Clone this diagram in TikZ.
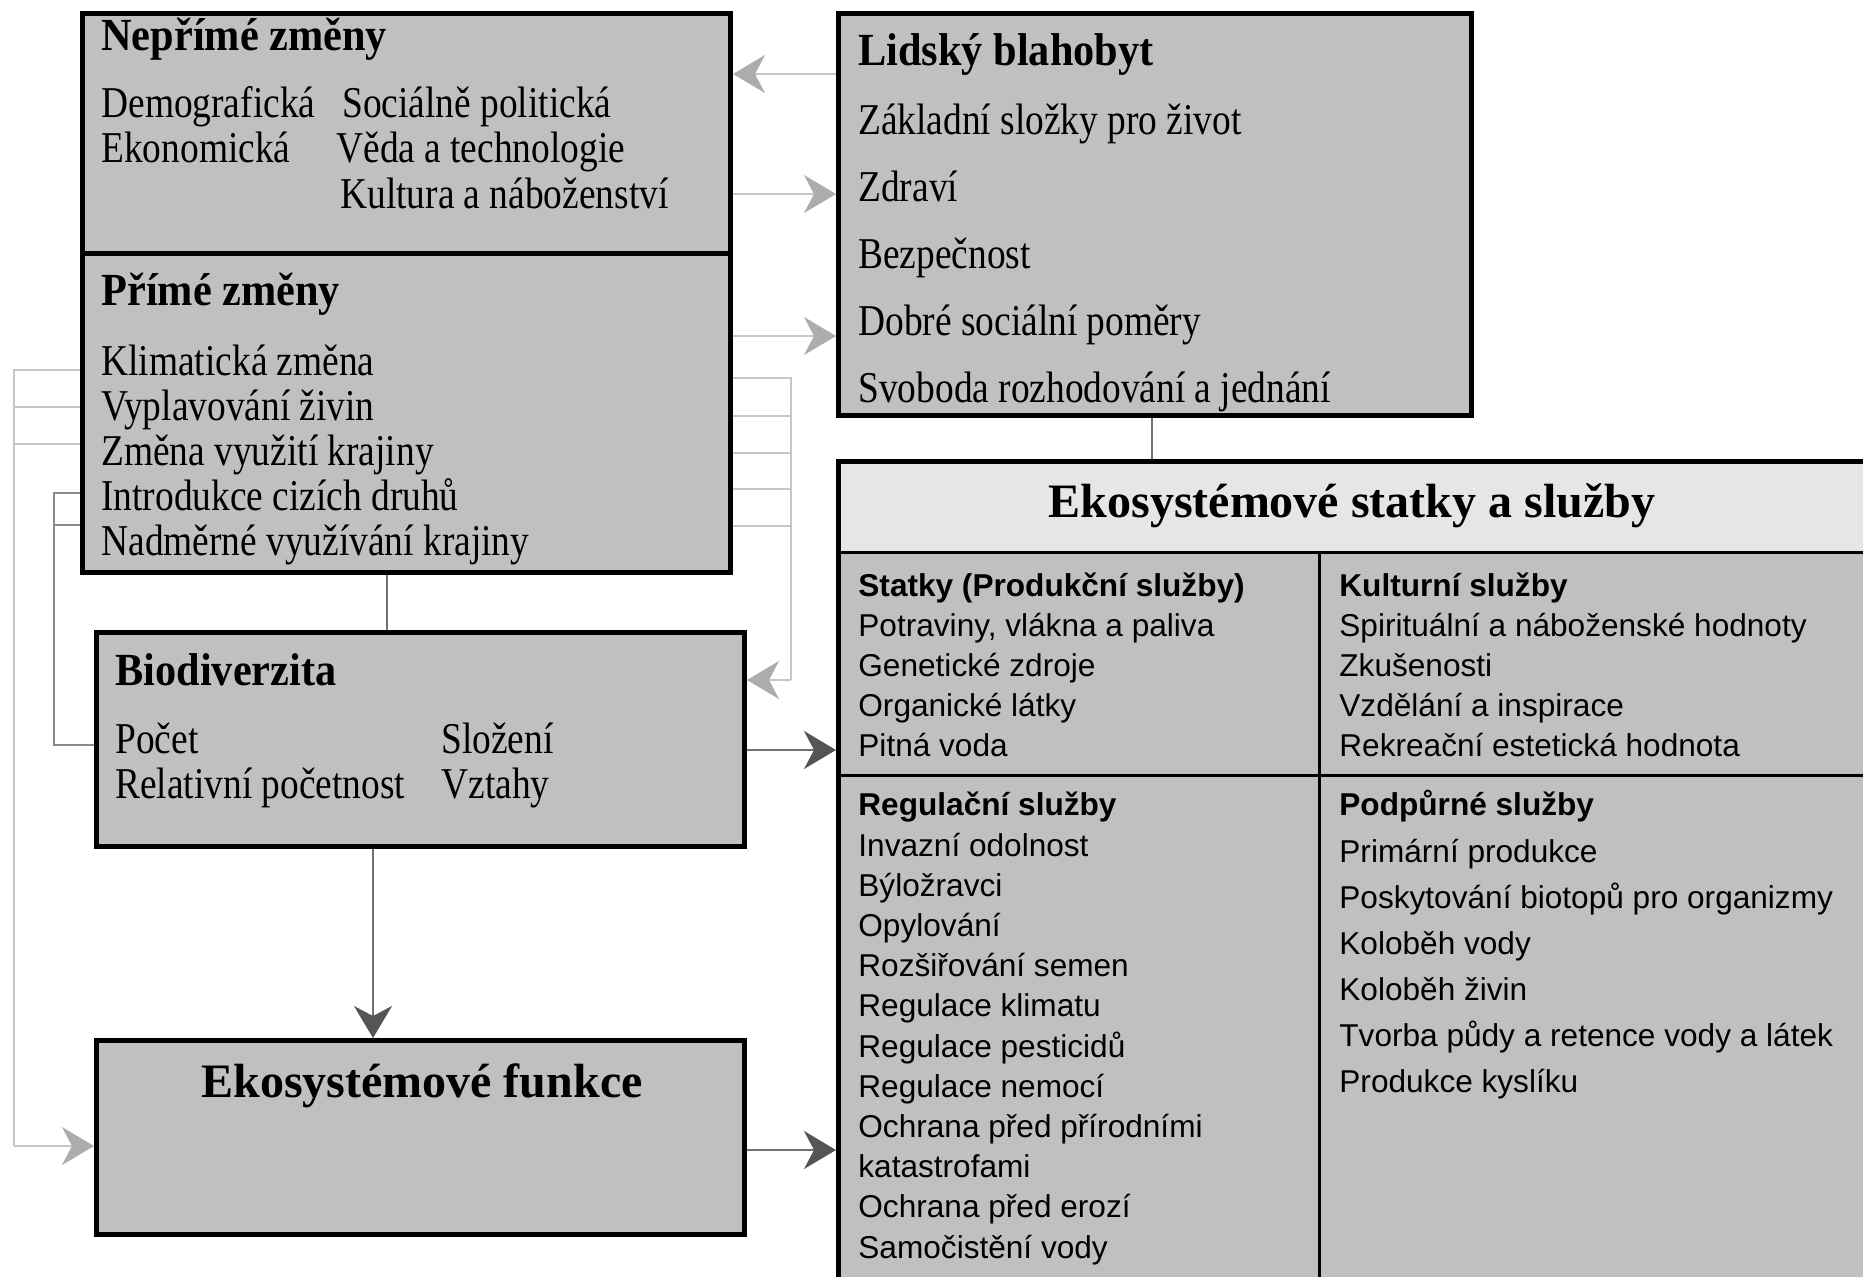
\documentclass[tikz,border=0pt]{standalone}
\usepackage{fontspec}
\setmainfont{Liberation Serif}
\newfontfamily\serbody[FakeStretch=0.85]{Liberation Serif}
\newfontfamily\serhead[FakeStretch=0.92]{Liberation Serif}
\newfontfamily\serbig{Liberation Serif}
\newfontfamily\arialf{Liberation Sans}
\usetikzlibrary{arrows.meta}
\definecolor{boxgrey}{HTML}{C0C0C0}
\definecolor{hdrgrey}{HTML}{E6E6E6}
\definecolor{lightline}{HTML}{C6C6C6}
\definecolor{lighthead}{HTML}{ADADAD}
\definecolor{midline}{HTML}{8A8A8A}
\definecolor{darkline}{HTML}{707070}
\definecolor{darkhead}{HTML}{555555}
\begin{document}
\begin{tikzpicture}[x=0.5pt,y=-0.5pt,
  panel/.style={draw=black, line width=2.5pt, fill=boxgrey, rectangle, inner sep=0pt},
  body/.style={anchor=base west, inner sep=0pt, font=\serbody\fontsize{22}{22}\selectfont},
  head/.style={anchor=base west, inner sep=0pt, font=\serhead\bfseries\fontsize{23}{23}\selectfont},
  bighead/.style={anchor=base, inner sep=0pt, font=\serbig\bfseries\fontsize{24}{24}\selectfont},
  sbody/.style={anchor=base west, inner sep=0pt, font=\arialf\fontsize{15.8}{18}\selectfont},
  shead/.style={anchor=base west, inner sep=0pt, font=\arialf\bfseries\fontsize{15.8}{18}\selectfont},
  lightconn/.style={draw=lightline, line width=1pt},
  midconn/.style={draw=midline, line width=1pt},
  darkconn/.style={draw=darkline, line width=1pt},
  lightarrow/.style={lightconn, -{Stealth[length=16pt,width=19pt,inset=5pt,color=lighthead]}},
  darkarrow/.style={darkconn, -{Stealth[length=16pt,width=19pt,inset=5pt,color=darkhead]}}
]
\useasboundingbox (0,0) rectangle (1863,1276);
\fill[white] (0,0) rectangle (1863,1276);

% boxes
\node[panel, minimum width=324pt, minimum height=119.75pt] (nep) at (406.5,133.25) {};
\node[panel, minimum width=324pt, minimum height=159.75pt] (prim) at (406.5,412.75) {};
\node[panel, minimum width=316.5pt, minimum height=201pt] (lid) at (1155,214.5) {};
\node[panel, minimum width=324pt, minimum height=107pt] (bio) at (420.5,739.5) {};
\node[panel, minimum width=324pt, minimum height=97pt] (fun) at (420.5,1137.5) {};
\node[panel, minimum width=530.75pt, minimum height=434.25pt] (eco) at (1369.25,895.75) {};
\fill[hdrgrey] (841,464) rectangle (1900,552);
\draw[line width=1.5pt] (838.5,552) -- (1900,552);
\draw[line width=1.5pt] (1319,552) -- (1319,1330);
\draw[line width=1.5pt] (838.5,775) -- (1900,775);

% connector coordinates
\coordinate (yA) at (0,74);
\coordinate (yB) at (0,194);
\coordinate (yC) at (0,336);
\coordinate (r1) at (791,378);
\coordinate (r2) at (791,416);
\coordinate (r3) at (791,453);
\coordinate (r4) at (791,489);
\coordinate (r5) at (791,526);
\coordinate (rb) at (791,680);
\coordinate (l1) at (14,370);
\coordinate (l2) at (14,407);
\coordinate (l3) at (14,444);
\coordinate (lb) at (14,1146);
\coordinate (m1) at (54,493);
\coordinate (m2) at (54,525);
\coordinate (mb) at (54,745);
\coordinate (v1) at (387,0);
\coordinate (v2) at (373,0);
\coordinate (v3) at (1152,0);
\coordinate (yD) at (0,750);
\coordinate (yE) at (0,1150);

% connectors
\draw[lightarrow] (lid.west |- yA) -- (nep.east |- yA);
\draw[lightarrow] (nep.east |- yB) -- (lid.west |- yB);
\draw[lightarrow] (prim.east |- yC) -- (lid.west |- yC);
\draw[lightconn] (prim.east |- r1) -- (r1) -- (rb);
\foreach \k in {2,3,4,5} \draw[lightconn] (prim.east |- r\k) -- (r\k);
\draw[lightarrow] (rb) -- (bio.east |- rb);
\draw[lightconn] (prim.west |- l1) -- (l1) -- (lb);
\draw[lightconn] (prim.west |- l2) -- (l2);
\draw[lightconn] (prim.west |- l3) -- (l3);
\draw[lightarrow] (lb) -- (fun.west |- lb);
\draw[midconn] (prim.west |- m1) -- (m1) -- (mb) -- (bio.west |- mb);
\draw[midconn] (prim.west |- m2) -- (m2);
\draw[darkconn] (prim.south -| v1) -- (bio.north -| v1);
\draw[darkarrow] (bio.south -| v2) -- (fun.north -| v2);
\draw[darkarrow] (bio.east |- yD) -- (eco.west |- yD);
\draw[darkarrow] (fun.east |- yE) -- (eco.west |- yE);
\draw[darkconn] (lid.south -| v3) -- (eco.north -| v3);

% Neprime zmeny
\node[head] (tnep) at (101,50) {Nepřímé změny};
\node[body] (tn1) at (101,117) {Demografická};
\node[body] (tn2) at (342,117) {Sociálně politická};
\node[body] (tn3) at (101,162) {Ekonomická};
\node[body] (tn4) at (336,162) {Věda a technologie};
\node[body] (tn5) at (340,208) {Kultura a náboženství};

% Prime zmeny
\node[head] (tprim) at (101,305) {Přímé změny};
\foreach \t [count=\i from 0] in {Klimatická změna, Vyplavování živin, Změna využití krajiny, Introdukce cizích druhů, Nadměrné využívání krajiny}
  \node[body] (tp\i) at (101,{375+45*\i}) {\t};

% Lidsky blahobyt
\node[head] (tlid) at (858,65) {Lidský blahobyt};
\foreach \t [count=\i from 0] in {Základní složky pro život, Zdraví, Bezpečnost, Dobré sociální poměry, Svoboda rozhodování a jednání}
  \node[body] (tl\i) at (858,{134+67.2*\i}) {\t};

% Biodiverzita
\node[head] (tbio) at (115,685) {Biodiverzita};
\node[body] (tb1) at (115,753) {Počet};
\node[body] (tb2) at (115,798) {Relativní početnost};
\node[body] (tb3) at (441,753) {Složení};
\node[body] (tb4) at (441,798) {Vztahy};

% Ekosystemove funkce
\node[bighead] (tfun) at (422,1097) {Ekosystémové funkce};

% Eco header
\node[bighead] (teco) at (1352,517) {Ekosystémové statky a služby};

% Statky
\node[shead] (tst) at (858,596) {Statky (Produkční služby)};
\foreach \t [count=\i from 0] in {{Potraviny, vlákna a paliva}, Genetické zdroje, Organické látky, Pitná voda}
  \node[sbody] (ts\i) at (858,{636+40.3*\i}) {\t};

% Kulturni
\node[shead] (tku) at (1339,596) {Kulturní služby};
\foreach \t [count=\i from 0] in {Spirituální a náboženské hodnoty, Zkušenosti, Vzdělání a inspirace, Rekreační estetická hodnota}
  \node[sbody] (tk\i) at (1339,{636+40.3*\i}) {\t};

% Regulacni
\node[shead] (treg) at (858,815) {Regulační služby};
\foreach \t [count=\i from 0] in {Invazní odolnost, Býložravci, Opylování, Rozšiřování semen, Regulace klimatu, Regulace pesticidů, Regulace nemocí, Ochrana před přírodními, katastrofami, Ochrana před erozí, Samočistění vody}
  \node[sbody] (tr\i) at (858,{856+40.2*\i}) {\t};

% Podpurne
\node[shead] (tpo) at (1339,815) {Podpůrné služby};
\foreach \t [count=\i from 0] in {Primární produkce, Poskytování biotopů pro organizmy, Koloběh vody, Koloběh živin, Tvorba půdy a retence vody a látek, Produkce kyslíku}
  \node[sbody] (tpp\i) at (1339,{862+46*\i}) {\t};
\end{tikzpicture}
\end{document}
